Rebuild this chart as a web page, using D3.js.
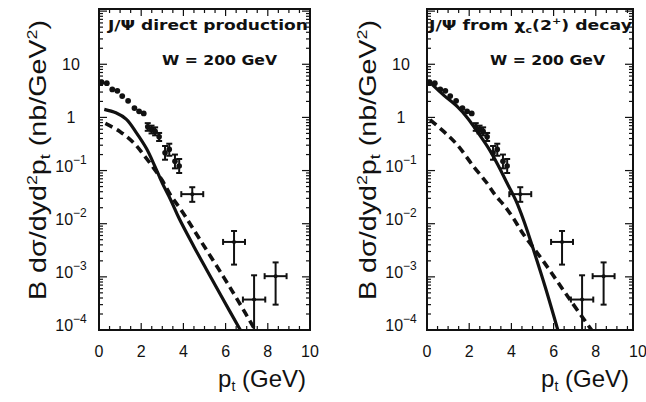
<!DOCTYPE html>
<html>
<head>
<meta charset="utf-8">
<script src="https://cdn.jsdelivr.net/npm/d3@7"></script>
<style>
  html, body { margin: 0; padding: 0; background: #fff; }
  svg { display: block; font-family: "Liberation Sans", Arial, sans-serif; }
</style>
</head>
<body>
<svg id="chart" width="646" height="402"></svg>
<script>
// =======================================================
// Data
// =======================================================
// low-pt data points (no visible error bars)
const ptDots = [0.12, 0.37, 0.63, 0.87, 1.1, 1.38, 1.68, 1.9, 2.12];
const yDots  = [4.6, 4.4, 3.37, 3.17, 2.52, 2.05, 1.5, 1.3, 1.19];

// points with vertical error bars only
const ptBars  = [2.31, 2.49, 2.66, 2.85, 3.13, 3.33, 3.6, 3.8];
const yBars   = [0.665, 0.594, 0.547, 0.431, 0.217, 0.25, 0.149, 0.122];
const yBarsLo = [0.56, 0.50, 0.46, 0.36, 0.16, 0.19, 0.11, 0.09];
const yBarsHi = [0.78, 0.70, 0.65, 0.51, 0.29, 0.32, 0.20, 0.165];

// high-pt points with x and y error bars
const ptCross  = [4.42, 6.4, 7.35, 8.37];
const xErr     = [0.52, 0.52, 0.53, 0.52];
const yCross   = [0.036, 0.00454, 3.74e-4, 1.03e-3];
const yCrossLo = [0.0258, 0.0017, 1e-5, 3.0e-4];
const yCrossHi = [0.0486, 0.0073, 1.07e-3, 1.87e-3];

// model curves, left panel (direct production)
const ptSolidL = [0.25, 0.8, 1.3, 1.75, 2.25, 2.65, 3.0, 3.4, 3.8, 4.5, 5.1, 5.8, 6.7];
const ySolidL  = [1.42, 1.22, 0.92, 0.53, 0.26, 0.12, 0.058, 0.028, 0.0125, 0.0037, 0.00136, 4.3e-4, 1e-4];
const ptDashL  = [0.3, 1.0, 1.65, 2.15, 2.6, 3.0, 3.4, 3.9, 4.8, 5.9, 6.6, 7.4];
const yDashL   = [0.77, 0.54, 0.33, 0.19, 0.11, 0.065, 0.034, 0.018, 0.0049, 0.001, 3.5e-4, 1e-4];

// model curves, right panel (chi_c decay)
const ptSolidR = [0.1, 0.8, 1.45, 1.9, 2.4, 2.9, 3.35, 3.75, 4.2, 4.6, 5.05, 5.6, 6.2];
const ySolidR  = [4.7, 2.6, 1.58, 1.0, 0.53, 0.27, 0.13, 0.063, 0.028, 0.011, 0.0032, 6.5e-4, 1e-4];
const ptDashR  = [0.15, 0.8, 1.45, 2.2, 2.8, 3.25, 3.7, 4.1, 4.55, 5.5, 6.8, 7.8];
const yDashR   = [0.9, 0.54, 0.3, 0.12, 0.061, 0.034, 0.021, 0.0125, 0.0065, 0.002, 3.6e-4, 1e-4];

// axes
const xTicks = [0, 2, 4, 6, 8, 10];
const yTicks = [1e-4, 1e-3, 1e-2, 1e-1, 1, 10];
const yExp   = [-4, -3, -2, -1, 0, 1];

// =======================================================
// Layout
// =======================================================
const TOP = 9, BOTTOM = 330;
const Y_MAX = Math.pow(10, 2.04);
const INK = "#111";

const panels = [
  {
    id: "L", left: 99, frameW: 211, scaleW: 211, labelX: 71, titleX: 46,
    title: [{ t: "J/Ψ direct production" }],
    titleX0: 108, titleLen: 200,
    solid: [ptSolidL, ySolidL], dash: [ptDashL, yDashL]
  },
  {
    id: "R", left: 427, frameW: 206, scaleW: 211, labelX: 401, titleX: 376,
    title: [
      { t: "J/Ψ from χ" }, { t: "c", sub: true }, { t: "(2" },
      { t: "+", sup: true }, { t: ") decay" }
    ],
    titleX0: 429, titleLen: 203,
    solid: [ptSolidR, ySolidR], dash: [ptDashR, yDashR]
  }
];

const svg = d3.select("#chart");

const y = d3.scaleLog().domain([1e-4, Y_MAX]).range([BOTTOM, TOP]);

function zip(xs, ys) { return xs.map((v, i) => [v, ys[i]]); }

// =======================================================
// Draw one panel
// =======================================================
function drawPanel(p) {
  const x = d3.scaleLinear().domain([0, 10]).range([p.left, p.left + p.scaleW]);
  const right = p.left + p.frameW;
  const g = svg.append("g").attr("class", "panel-" + p.id);

  g.append("clipPath").attr("id", "clip" + p.id)
    .append("rect")
    .attr("x", p.left).attr("y", TOP)
    .attr("width", p.frameW).attr("height", BOTTOM - TOP);

  // ---- ticks (inside, all four sides)
  const tk = g.append("g").attr("stroke", INK).attr("stroke-width", 1.2);
  const minorX = d3.range(0, 10.01, 0.5).filter(v => x(v) <= right + 0.5);
  minorX.forEach(v => {
    const major = Math.abs(v % 2) < 1e-6;
    const len = major ? 7 : 4;
    tk.append("line").attr("x1", x(v)).attr("x2", x(v))
      .attr("y1", BOTTOM).attr("y2", BOTTOM - len);
    tk.append("line").attr("x1", x(v)).attr("x2", x(v))
      .attr("y1", TOP).attr("y2", TOP + len);
  });
  const logTicks = [];
  for (let e = -4; e <= 2; e++) {
    for (let m = 1; m <= 9; m++) {
      const v = m * Math.pow(10, e);
      if (v >= 1e-4 && v <= Y_MAX) logTicks.push({ v, major: m === 1 });
    }
  }
  logTicks.forEach(d => {
    const len = d.major ? 8 : 4;
    tk.append("line").attr("x1", p.left).attr("x2", p.left + len)
      .attr("y1", y(d.v)).attr("y2", y(d.v));
    tk.append("line").attr("x1", right).attr("x2", right - len)
      .attr("y1", y(d.v)).attr("y2", y(d.v));
  });

  // ---- frame
  g.append("rect")
    .attr("x", p.left).attr("y", TOP)
    .attr("width", p.frameW).attr("height", BOTTOM - TOP)
    .attr("fill", "none").attr("stroke", INK).attr("stroke-width", 2);

  // ---- tick labels
  g.selectAll(".xl").data(xTicks).enter().append("text")
    .attr("x", d => x(d)).attr("y", 357)
    .attr("text-anchor", "middle").attr("font-size", 16).attr("fill", INK)
    .text(d => d);

  yTicks.forEach((v, i) => {
    const e = yExp[i];
    const t = g.append("text")
      .attr("x", p.labelX).attr("text-anchor", "middle")
      .attr("font-size", 16).attr("fill", INK);
    if (e >= 0) {
      t.attr("y", y(v) + 6).text(v === 1 ? "1" : "10");
    } else {
      t.attr("y", y(v) + 1);
      t.append("tspan").text("10");
      t.append("tspan").attr("dy", -8).attr("font-size", 12).text("−" + (-e));
    }
  });

  // ---- axis titles
  const xt = g.append("text")
    .attr("x", right - 4).attr("y", 387)
    .attr("text-anchor", "end").attr("font-size", 24).attr("fill", INK);
  xt.append("tspan").text("p");
  xt.append("tspan").attr("dy", 4).attr("font-size", 14).text("t");
  xt.append("tspan").attr("dy", -4).text(" (GeV)");

  const yt = g.append("text")
    .attr("transform", `translate(${p.titleX},160) rotate(-90)`)
    .attr("text-anchor", "middle").attr("font-size", 24).attr("fill", INK)
    .attr("textLength", 280).attr("lengthAdjust", "spacingAndGlyphs");
  yt.append("tspan").text("B dσ/dyd");
  yt.append("tspan").attr("dy", -9).attr("font-size", 15).text("2");
  yt.append("tspan").attr("dy", 9).text("p");
  yt.append("tspan").attr("dy", 4).attr("font-size", 15).text("t");
  yt.append("tspan").attr("dy", -4).text(" (nb/GeV");
  yt.append("tspan").attr("dy", -9).attr("font-size", 15).text("2");
  yt.append("tspan").attr("dy", 9).text(")");

  // ---- labels inside the frame
  const tt = g.append("text")
    .attr("x", p.titleX0).attr("y", 30)
    .attr("font-family", "'DejaVu Sans', sans-serif")
    .attr("font-weight", "bold")
    .attr("font-size", 14).attr("fill", INK)
    .attr("textLength", p.titleLen).attr("lengthAdjust", "spacingAndGlyphs");
  let shift = 0;
  p.title.forEach(s => {
    const want = s.sub ? 3 : s.sup ? -6 : 0;
    tt.append("tspan")
      .attr("dy", want - shift)
      .attr("font-size", s.sub || s.sup ? 9 : 14)
      .text(s.t);
    shift = want;
  });

  g.append("text")
    .attr("x", p.left + 63).attr("y", 65)
    .attr("font-family", "'DejaVu Sans', sans-serif")
    .attr("font-weight", "bold")
    .attr("font-size", 14).attr("fill", INK)
    .attr("textLength", 115).attr("lengthAdjust", "spacingAndGlyphs")
    .text("W = 200 GeV");

  // ---- plot content, clipped
  const c = g.append("g").attr("clip-path", `url(#clip${p.id})`);

  const line = d3.line()
    .x(d => x(d[0])).y(d => y(d[1]))
    .curve(d3.curveCatmullRom.alpha(0.5));

  c.append("path").datum(zip(p.solid[0], p.solid[1]))
    .attr("d", line).attr("fill", "none")
    .attr("stroke", INK).attr("stroke-width", 3.2);
  c.append("path").datum(zip(p.dash[0], p.dash[1]))
    .attr("d", line).attr("fill", "none")
    .attr("stroke", INK).attr("stroke-width", 3.6)
    .attr("stroke-dasharray", "8,5");

  // dots
  c.selectAll(".dot").data(zip(ptDots, yDots)).enter().append("circle")
    .attr("cx", d => x(d[0])).attr("cy", d => y(d[1])).attr("r", 2.9)
    .attr("fill", INK);

  const eb = c.append("g").attr("stroke", INK).attr("stroke-width", 2);

  // vertical error bars
  ptBars.forEach((pt, i) => {
    const cx = x(pt);
    eb.append("line").attr("x1", cx).attr("x2", cx)
      .attr("y1", y(yBarsLo[i])).attr("y2", y(yBarsHi[i]));
    [yBarsLo[i], yBarsHi[i]].forEach(v => {
      eb.append("line").attr("x1", cx - 3).attr("x2", cx + 3)
        .attr("y1", y(v)).attr("y2", y(v));
    });
    c.append("circle").attr("cx", cx).attr("cy", y(yBars[i])).attr("r", 2.8)
      .attr("fill", INK);
  });

  // crosses
  ptCross.forEach((pt, i) => {
    const cx = x(pt), cy = y(yCross[i]);
    const x0 = x(pt - xErr[i]), x1 = x(pt + xErr[i]);
    eb.append("line").attr("x1", x0).attr("x2", x1).attr("y1", cy).attr("y2", cy);
    [x0, x1].forEach(xx => {
      eb.append("line").attr("x1", xx).attr("x2", xx)
        .attr("y1", cy - 3).attr("y2", cy + 3);
    });
    eb.append("line").attr("x1", cx).attr("x2", cx)
      .attr("y1", y(yCrossLo[i])).attr("y2", y(yCrossHi[i]));
    [yCrossLo[i], yCrossHi[i]].forEach(v => {
      eb.append("line").attr("x1", cx - 3).attr("x2", cx + 3)
        .attr("y1", y(v)).attr("y2", y(v));
    });
    c.append("circle").attr("cx", cx).attr("cy", cy).attr("r", 2)
      .attr("fill", INK);
  });
}

panels.forEach(drawPanel);
</script>
</body>
</html>
